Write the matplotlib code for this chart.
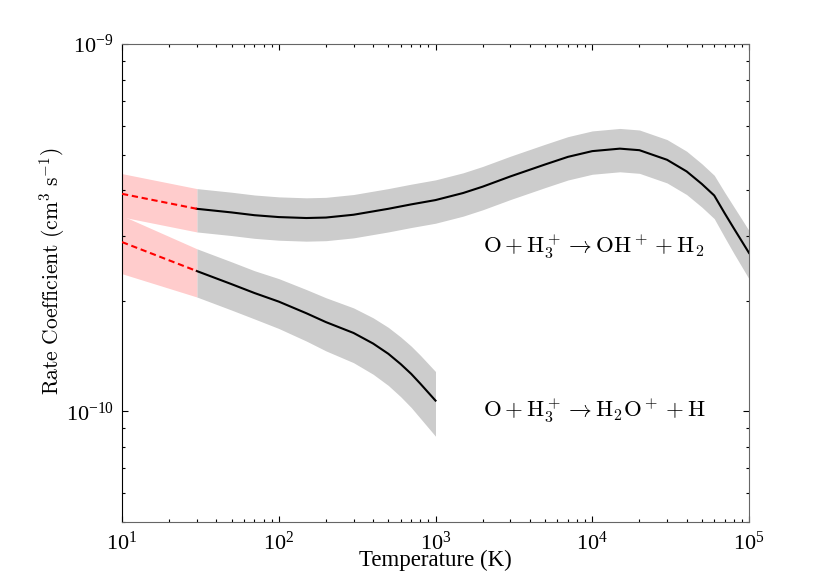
import numpy as np
import matplotlib
matplotlib.use("Agg")
import matplotlib.pyplot as plt
from matplotlib.ticker import NullFormatter

plt.rcParams['font.family'] = 'serif'
plt.rcParams['font.serif'] = ['Liberation Serif', 'DejaVu Serif']
plt.rcParams['mathtext.fontset'] = 'stix'

# O + H3+ -> OH+ + H2 (calculated range, 30 K - 1e5 K)
T_oh = np.array([30, 50, 70, 100, 150, 200, 300, 500, 700, 1000, 1500, 2000, 3000,
                 5000, 7000, 1e4, 1.5e4, 2e4, 3e4, 4e4, 5e4, 6e4, 7e4, 8e4, 1e5])
k_oh = np.array([3.56, 3.48, 3.42, 3.38, 3.36, 3.37, 3.43, 3.56, 3.66, 3.76, 3.93, 4.09, 4.36,
                 4.70, 4.93, 5.11, 5.19, 5.14, 4.84, 4.50, 4.16, 3.87, 3.46, 3.15, 2.70]) * 1e-10
err_oh = np.array([0.135] * 22 + [0.14, 0.145, 0.15])

# O + H3+ -> H2O+ + H (calculated range, 30 K - 1000 K)
T_h2o = np.array([30, 50, 70, 100, 150, 200, 300, 400, 500, 600, 700, 800, 1000])
k_h2o = np.array([2.41, 2.22, 2.10, 1.99, 1.85, 1.75, 1.635, 1.53, 1.435, 1.345, 1.265, 1.19, 1.07]) * 1e-10
err_h2o = np.array([0.15, 0.15, 0.15, 0.155, 0.16, 0.165, 0.17, 0.175, 0.18, 0.185, 0.19, 0.195, 0.20])

# low temperature extrapolation (10 K - 30 K)
T_ext = np.array([10, 30])
k_oh_ext = np.array([3.91, 3.56]) * 1e-10
err_oh_ext = np.array([0.135, 0.135])
k_h2o_ext = np.array([2.89, 2.41]) * 1e-10
err_h2o_ext = np.array([0.18, 0.15])

label_oh = r'$\mathrm{O} + \mathrm{H}_3^+ \rightarrow \mathrm{OH}^+ + \mathrm{H}_2$'
label_h2o = r'$\mathrm{O} + \mathrm{H}_3^+ \rightarrow \mathrm{H}_2\mathrm{O}^+ + \mathrm{H}$'

fig = plt.figure(figsize=(8.3, 5.87), dpi=100)
ax = fig.add_axes([122/830, 1 - 522/587, 627/830, 478/587])

gray = '#cccccc'
pink = '#ffcccc'

for T, k, e in [(T_oh, k_oh, err_oh), (T_h2o, k_h2o, err_h2o)]:
    ax.fill_between(T, k*(1 - e), k*(1 + e), color=gray, lw=0, zorder=1)
    ax.plot(T, k, color='black', lw=1.5, zorder=3)

for k, e in [(k_oh_ext, err_oh_ext), (k_h2o_ext, err_h2o_ext)]:
    ax.fill_between(T_ext, k*(1 - e), k*(1 + e), color=pink, lw=0, zorder=1)
    ax.plot(T_ext, k, color='red', lw=1.5, dashes=(3, 1.8), zorder=3)

ax.set_xscale('log')
ax.set_yscale('log')
ax.set_xlim(10, 1e5)
ax.set_ylim(5e-11, 1e-9)

ax.yaxis.set_minor_formatter(NullFormatter())
ax.xaxis.set_minor_formatter(NullFormatter())
ax.tick_params(which='both', direction='in', top=True, right=True, labelsize=16)
ax.tick_params(which='major', length=4.5, width=0.8)
ax.tick_params(which='minor', length=2.5, width=0.8)
ax.tick_params(axis='x', pad=7)
ax.tick_params(axis='y', pad=6)
for side in ['top', 'right', 'bottom']:
    ax.spines[side].set_color('#666666')
ax.spines['left'].set_color('black')

ax.text(0.576, 0.562, label_oh, transform=ax.transAxes, fontsize=16.5,
        math_fontfamily='cm', ha='left', va='baseline')
ax.text(0.576, 0.220, label_h2o, transform=ax.transAxes, fontsize=16.5,
        math_fontfamily='cm', ha='left', va='baseline')

ax.set_xlabel('Temperature (K)', fontsize=16.5)
ax.xaxis.set_label_coords(0.5, -0.058)
ax.set_ylabel(r'$\mathrm{Rate\ Coefficient\ (cm^3\ s^{-1})}$', fontsize=15.5,
              math_fontfamily='cm')
ax.yaxis.set_label_coords(-0.087, 0.525)

fig.savefig('out.png', dpi=100)
